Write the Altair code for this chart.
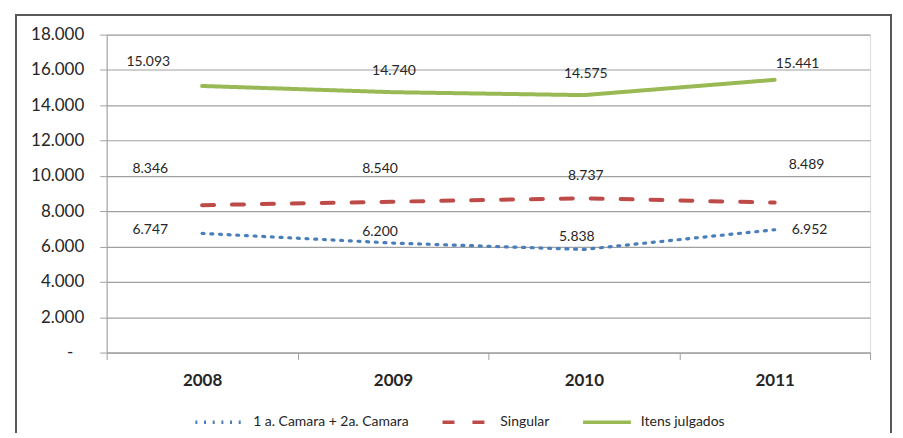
import altair as alt
import pandas as pd

years = ["2008", "2009", "2010", "2011"]
camara = [6747, 6200, 5838, 6952]
singular = [8346, 8540, 8737, 8489]
itens = [15093, 14740, 14575, 15441]
series_names = ["1 a. Camara + 2a. Camara", "Singular", "Itens julgados"]
value_labels = {
    "1 a. Camara + 2a. Camara": ["6.747", "6.200", "5.838", "6.952"],
    "Singular": ["8.346", "8.540", "8.737", "8.489"],
    "Itens julgados": ["15.093", "14.740", "14.575", "15.441"],
}

# style
colors = ["#4a7ebb", "#be4b48", "#98b954"]
dashes = [[2, 6.7], [12, 18], [1, 0]]
widths = {"1 a. Camara + 2a. Camara": 3.2, "Singular": 4, "Itens julgados": 4}
label_dx = {
    "1 a. Camara + 2a. Camara": [-52, -13, -7, 35],
    "Singular": [-52, -13, 2, 32],
    "Itens julgados": [-54, 1, 2, 23],
}
label_dy = {
    "1 a. Camara + 2a. Camara": [-3, -11, -12, 0],
    "Singular": [-36, -33, -22, -38],
    "Itens julgados": [-24, -21, -21, -16],
}

rows = []
for name, vals in zip(series_names, [camara, singular, itens]):
    for y, v, lab in zip(years, vals, value_labels[name]):
        rows.append({"year": y, "series": name, "value": v, "label": lab})
df = pd.DataFrame(rows)

GRID = "#a0a0a0"
TXT = "#262626"
FONT = "Lato"

xenc = alt.X(
    "year:N",
    bandPosition=0.5,
    scale=alt.Scale(type="band", paddingInner=0, paddingOuter=0),
    axis=alt.Axis(
        title=None, labelAngle=0, labelFontSize=17, labelFontWeight="bold",
        labelColor=TXT, labelPadding=13, tickBand="extent", tickSize=7,
        tickColor=GRID, domainColor=GRID, grid=False, labelFont=FONT,
    ),
)
yenc = alt.Y(
    "value:Q",
    scale=alt.Scale(domain=[0, 18000], nice=False),
    axis=alt.Axis(
        title=None, values=list(range(0, 18001, 2000)),
        labelExpr="datum.value == 0 ? '-' : replace(format(datum.value, ',.0f'), ',', '.')",
        labelFontSize=17, labelColor=TXT,
        labelPadding={"condition": {"test": "datum.value == 0", "value": 27}, "value": 16},
        tickSize=7,
        tickColor=GRID, gridColor=GRID, gridWidth=1.2, domainColor=GRID,
        labelFont=FONT,
    ),
)

leg = alt.Legend(
    title=None, orient="none", direction="horizontal", legendX=87, legendY=363,
    symbolType="stroke", symbolSize=2304, symbolStrokeWidth=3.5,
    labelFontSize=14, labelColor=TXT, labelFont=FONT, labelOffset=8,
    columnPadding=26, padding=0,
)

lines = []
for name, col, dash in zip(series_names, colors, dashes):
    lines.append(
        alt.Chart(df)
        .transform_filter(alt.datum.series == name)
        .mark_line(strokeWidth=widths[name], strokeCap="round")
        .encode(
            x=xenc,
            y=yenc,
            color=alt.Color("series:N", scale=alt.Scale(domain=series_names, range=colors), legend=leg),
            strokeDash=alt.StrokeDash("series:N", scale=alt.Scale(domain=series_names, range=dashes), legend=leg),
        )
    )

texts = []
for name in series_names:
    for i, yr in enumerate(years):
        texts.append(
            alt.Chart(df)
            .transform_filter((alt.datum.series == name) & (alt.datum.year == yr))
            .mark_text(
                dx=label_dx[name][i], dy=label_dy[name][i], fontSize=14,
                color=TXT, font=FONT, baseline="middle", align="center",
            )
            .encode(x=xenc, y=yenc, text="label:N")
        )

frame = alt.Chart(df).mark_rect(fill=None, stroke="#595959", strokeWidth=1.5, clip=False).encode(
    x=alt.value(-91), x2=alt.value(787), y=alt.value(-20), y2=alt.value(420)
)

chart = (
    alt.layer(frame, *lines, *texts)
    .properties(
        width=766, height=319,
        padding={"left": 99, "top": 26, "right": 25, "bottom": 80},
        autosize=alt.AutoSizeParams(type="none"),
    )
    .configure_view(stroke=None)
    .configure(font=FONT)
)

chart.save("out.html", embed_options={"renderer": "svg", "actions": False})
